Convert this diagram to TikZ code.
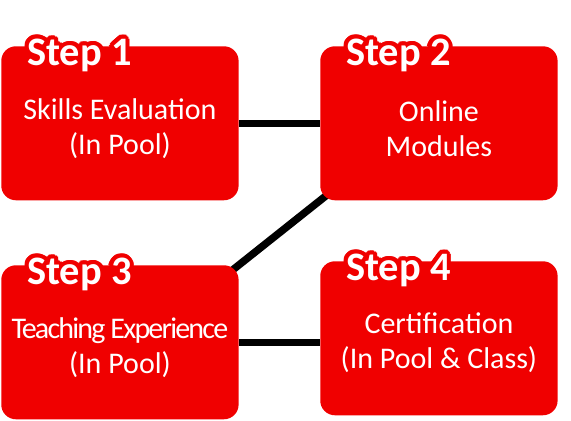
\documentclass[tikz,border=0pt]{standalone}
\usepackage{fontspec}
\setmainfont{Carlito}
\usetikzlibrary{backgrounds}
\definecolor{boxred}{RGB}{240,0,0}
% white step title with a red halo round it
\newcommand{\steptag}[3]{%
  \foreach \ang [count=\k] in {0,22.5,...,337.5}{
    \node[tag,text=boxred,xshift={3.1pt*cos(\ang)},yshift={3.1pt*sin(\ang)}] (#1h\k) at (#2.north west) {#3};
    \node[tag,text=boxred,xshift={1.6pt*cos(\ang)},yshift={1.6pt*sin(\ang)}] (#1g\k) at (#2.north west) {#3};
  }
  \node[tag] (#1) at (#2.north west) {#3};}
\begin{document}
\begin{tikzpicture}
[x=0.75pt,y=-0.75pt,
stepbox/.style={fill=boxred,rounded corners=11pt,anchor=north west,inner sep=0pt,minimum width=178pt,minimum height=115.5pt},
body/.style={text=white,align=center,font=\fontsize{22.5}{26.2}\selectfont},
tag/.style={text=white,anchor=base west,xshift=19.5pt,yshift=-14.5pt,inner sep=0pt,font=\fontsize{30.3}{36}\selectfont\bfseries},
link/.style={line width=5.6pt}]
	\useasboundingbox (0,0) rectangle (571,421);
	\node[stepbox] (box1) at (1,46) {};
	\node[stepbox] (box2) at (320,46) {};
	\node[stepbox] (box3) at (1,265) {};
	\node[stepbox] (box4) at (320,261) {};
	\begin{pgfonlayer}{background}
		\draw[link] (box1.east) -- (box2.west);
		\draw[link,shorten <=-8pt,shorten >=-8pt] (box3.north east) -- (box2.south west);
		\draw[link] (box3.east) -- (box3.east -| box4.west);
	\end{pgfonlayer}
	\node[body] (text1) at ([yshift=-4pt]box1.center) {Skills Evaluation\\(In Pool)};
	\node[body] (text2) at ([yshift=-4pt]box2.center) {Online\\Modules};
	\node[body] (text3) at ([yshift=-4pt]box3.center) {{\addfontfeature{LetterSpace=-6}Teaching Experience}\\(In Pool)};
	\node[body] (text4) at ([yshift=-3pt]box4.center) {Certification\\(In Pool \& Class)};
	\steptag{tag1}{box1}{Step 1}
	\steptag{tag2}{box2}{Step 2}
	\steptag{tag3}{box3}{Step 3}
	\steptag{tag4}{box4}{Step 4}
\end{tikzpicture}
\end{document}
